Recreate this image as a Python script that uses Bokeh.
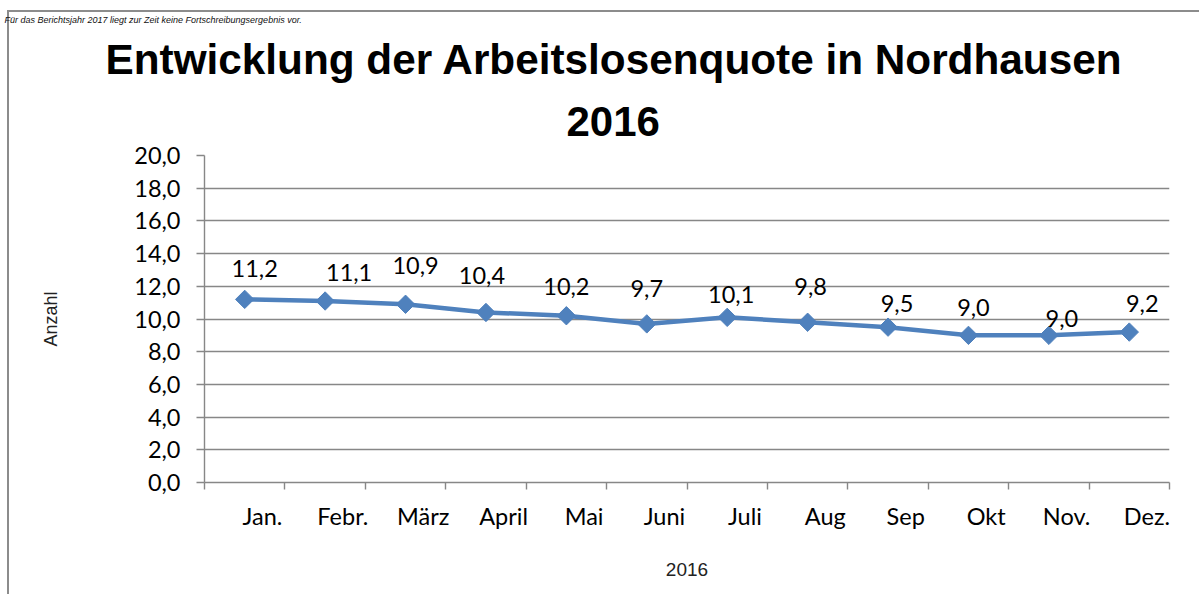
import math
from bokeh.plotting import figure
from bokeh.models import (Range1d, FixedTicker, LabelSet, ColumnDataSource, Title,
                          CustomJSTickFormatter)
from bokeh.core.properties import value
from bokeh.embed import file_html
from bokeh.resources import INLINE

# ---- data ----
months = ["Jan.", "Febr.", "März", "April", "Mai", "Juni",
          "Juli", "Aug", "Sep", "Okt", "Nov.", "Dez."]
quote = [11.2, 11.1, 10.9, 10.4, 10.2, 9.7, 10.1, 9.8, 9.5, 9.0, 9.0, 9.2]
y_ticks = [0, 2, 4, 6, 8, 10, 12, 14, 16, 18, 20]
y_tick_labels = ["0,0", "2,0", "4,0", "6,0", "8,0", "10,0",
                 "12,0", "14,0", "16,0", "18,0", "20,0"]
title_line1 = "Entwicklung der Arbeitslosenquote in Nordhausen"
title_line2 = "2016"
y_title = "Anzahl"
x_title = "2016"
note = "Für das Berichtsjahr 2017  liegt  zur Zeit keine Fortschreibungsergebnis vor."

# data label nudges in pixels (as placed in the original chart)
label_dx = [10, 24, 10, -4, 0, 0, 4, 3, 9, 5, 13, 13]
label_dy = [31, 29, 39, 37, 29, 35, 23, 36, 24, 28, 17, 29]

n = len(months)
xc = [i + 0.5 for i in range(n)]
val_text = [f"{v:.1f}".replace(".", ",") for v in quote]

FONT = "Lato"
FS = "23.5px"
GRID = "#878787"
MONTH_SHIFT = 0.22   # month names sit toward the right end of each category

W, H = 1199, 594
BL, BR, BT, BB = 204, 30, 155, 112
p = figure(width=W, height=H, output_backend="svg", toolbar_location=None,
           x_range=Range1d(0, n), y_range=Range1d(0, 20),
           min_border_left=BL, min_border_right=BR,
           min_border_top=BT, min_border_bottom=BB)
p.outline_line_color = None
p.background_fill_color = None
p.border_fill_color = None
# outer chart frame (left and top edge), drawn behind the transparent canvas
p.styles = {
    "background-color": "white",
    "background-image": "linear-gradient(#8c8c8c,#8c8c8c), linear-gradient(#8c8c8c,#8c8c8c)",
    "background-position": "7px 10px, 7px 10px",
    "background-size": "2px 100%, 100% 2px",
    "background-repeat": "no-repeat",
}

# grid
p.xgrid.visible = False
p.ygrid.ticker = FixedTicker(ticks=y_ticks)
p.ygrid.grid_line_color = GRID
p.ygrid.grid_line_width = 1.4

# y axis
ya = p.yaxis[0]
ya.ticker = FixedTicker(ticks=y_ticks)
ya.major_label_overrides = {t: l for t, l in zip(y_ticks, y_tick_labels)}
ya.axis_line_color = GRID
ya.axis_line_width = 1.4
ya.major_tick_line_color = GRID
ya.major_tick_line_width = 1.4
ya.major_tick_out = 8
ya.major_tick_in = 0
ya.minor_tick_line_color = None
ya.major_label_text_font = FONT
ya.major_label_text_font_size = FS
ya.major_label_text_color = "black"
ya.major_label_standoff = 16
ya.axis_label = y_title
ya.axis_label_text_font = "Liberation Sans"
ya.axis_label_text_font_style = "normal"
ya.axis_label_text_font_size = "18px"
ya.axis_label_text_color = "#222222"
ya.axis_label_standoff = 70

# x axis: tick marks (minor) at category boundaries, month names as major labels
xa = p.xaxis[0]
xa.ticker = FixedTicker(ticks=[i + 0.5 + MONTH_SHIFT for i in range(n)],
                        minor_ticks=list(range(n + 1)))
xa.formatter = CustomJSTickFormatter(args=dict(m=months),
                                     code="return m[Math.floor(tick)]")
xa.axis_line_color = GRID
xa.axis_line_width = 1.4
xa.major_tick_line_color = None
xa.major_tick_out = 0
xa.major_tick_in = 0
xa.minor_tick_line_color = GRID
xa.minor_tick_line_width = 1.4
xa.minor_tick_out = 7
xa.minor_tick_in = 0
xa.major_label_text_font = FONT
xa.major_label_text_font_size = FS
xa.major_label_text_color = "black"
xa.major_label_standoff = 12
xa.axis_label = x_title
xa.axis_label_text_font = "Liberation Sans"
xa.axis_label_text_font_style = "normal"
xa.axis_label_text_font_size = "19px"
xa.axis_label_text_color = "#222222"
xa.axis_label_standoff = 30

# series
p.line(xc, quote, line_color="#4F81BD", line_width=4.5)
p.scatter(xc, quote, marker="square", angle=math.pi / 4, size=13,
          fill_color="#4F81BD", line_color="#4F81BD")

# data labels
lab_src = ColumnDataSource(dict(x=xc, y=quote, t=val_text, dx=label_dx, dy=label_dy))
p.add_layout(LabelSet(x="x", y="y", text="t", source=lab_src,
                      x_offset="dx", y_offset="dy",
                      text_align="center", text_baseline="middle",
                      text_font=value(FONT), text_font_size=FS,
                      text_color="black"))

# titles (stacked upward from the plot frame)
p.title.text = ""
p.add_layout(Title(text=title_line2, align="left", offset=362, standoff=40,
                   text_font="Liberation Sans", text_font_style="bold",
                   text_font_size="42px", text_color="black"), "above")
p.add_layout(Title(text=title_line1, align="left", offset=-99, standoff=4,
                   text_font="Liberation Sans", text_font_style="bold",
                   text_font_size="42.3px", text_color="black"), "above")
p.add_layout(Title(text=note, align="left", offset=-200, standoff=14,
                   text_font="Liberation Sans", text_font_style="italic",
                   text_font_size="9px", text_color="#111111"), "above")

open("out.html", "w").write(file_html(p, INLINE))
